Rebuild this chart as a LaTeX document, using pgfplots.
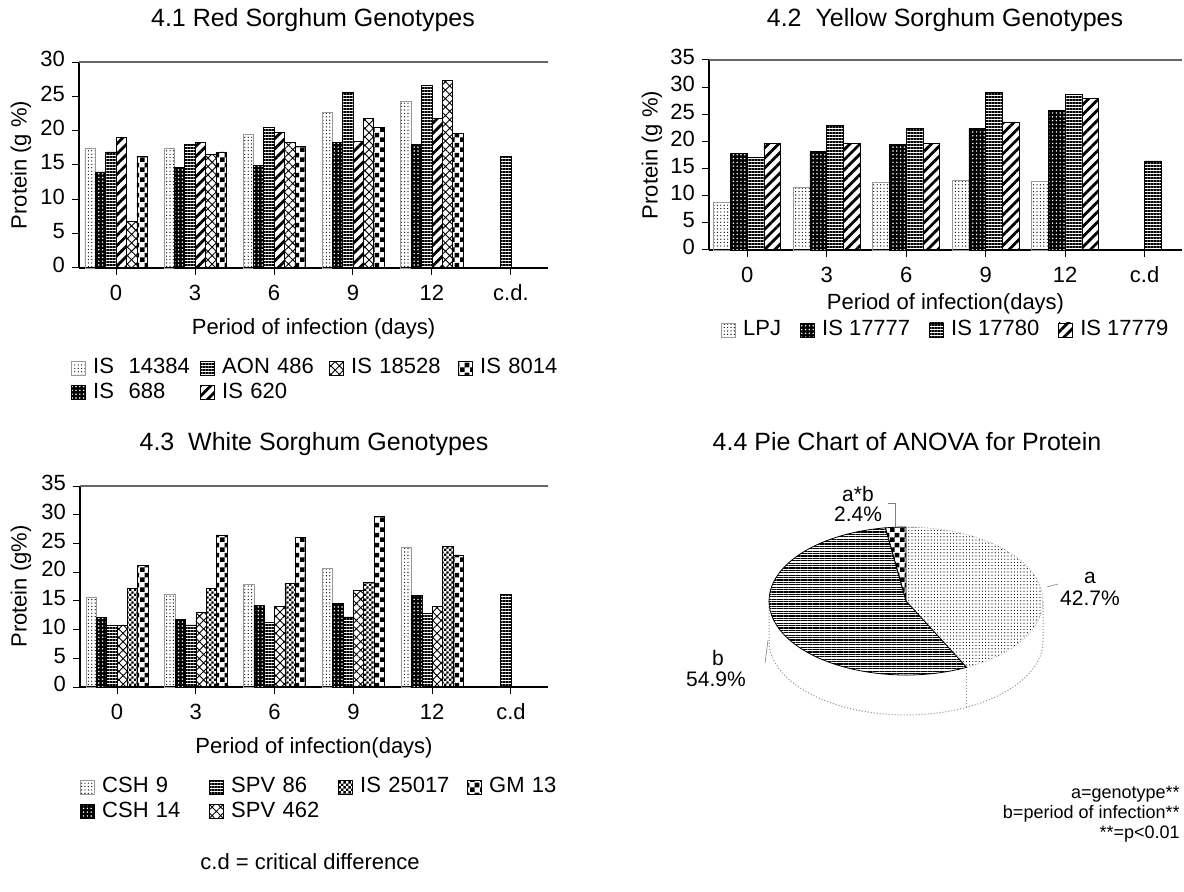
\documentclass[border=0pt]{standalone}
\usepackage{fontspec}
\setmainfont{Liberation Sans}
\usepackage{pgfplots}
\pgfplotsset{compat=1.18}
\usetikzlibrary{patterns,patterns.meta}

\pgfdeclarepatternformonly{bigchecker}{\pgfpointorigin}{\pgfqpoint{5pt}{5pt}}{\pgfqpoint{5pt}{5pt}}{%
 \pgfpathrectangle{\pgfpointorigin}{\pgfqpoint{2.5pt}{2.5pt}}%
 \pgfpathrectangle{\pgfqpoint{2.5pt}{2.5pt}}{\pgfqpoint{2.5pt}{2.5pt}}%
 \pgfusepath{fill}}
\pgfdeclarepatternformonly{finechecker}{\pgfpointorigin}{\pgfqpoint{2.4pt}{2.4pt}}{\pgfqpoint{2.4pt}{2.4pt}}{%
 \pgfpathrectangle{\pgfpointorigin}{\pgfqpoint{1.2pt}{1.2pt}}%
 \pgfpathrectangle{\pgfqpoint{1.2pt}{1.2pt}}{\pgfqpoint{1.2pt}{1.2pt}}%
 \pgfusepath{fill}}

\tikzset{
 pLight/.style={pattern={Dots[distance=1.7pt,radius=0.33pt]}, pattern color=black, draw=black!40, line width=0.3pt},
 pDark/.style={fill=black, postaction={pattern={Dots[distance=1.9pt,radius=0.42pt]}, pattern color=white}, draw=black, line width=0.3pt},
 pH/.style={pattern={Lines[angle=0,distance=1.5pt,line width=0.65pt]}, pattern color=black, draw=black, line width=0.3pt},
 pDiag/.style={pattern={Lines[angle=45,distance=3.6pt,line width=1.4pt]}, pattern color=black, draw=black, line width=0.3pt},
 pCross/.style={pattern={Hatch[angle=45,distance=3pt,line width=0.45pt]}, pattern color=black, draw=black, line width=0.3pt},
 pChk/.style={pattern=bigchecker, pattern color=black, draw=black, line width=0.3pt},
 pFine/.style={pattern=finechecker, pattern color=black, draw=black, line width=0.3pt},
}

\pgfplotsset{
 sorgh/.style={
  scale only axis, anchor=south west,
  xmin=-0.47, xmax=5.47, ymin=0,
  axis x line*=bottom, axis y line*=left,
  xtick={0,1,2,3,4,5},
  tick align=outside,
  major tick length=3.5pt,
  tick style={black, line width=0.5pt},
  axis line style={line width=0.6pt},
  tick label style={font=\fontsize{11}{12}\selectfont},
  typeset ticklabels with strut,
  xticklabel style={yshift=-1pt},
  label style={font=\fontsize{11}{13}\selectfont},
  /pgf/number format/assume math mode=true,
  clip=false,
  legend cell align=left,
  legend image code/.code={\draw[##1] (0pt,-3.5pt) rectangle (7pt,3.5pt);},
  legend style={draw=none, fill=none, inner sep=0pt, font=\fontsize{11}{12}\selectfont, row sep=1pt,
    nodes={inner sep=0.6pt, text height=7.8pt, text depth=2.2pt},
    /tikz/every odd column/.append style={column sep=3pt}},
 }
}

\begin{document}
\begin{tikzpicture}
\useasboundingbox (0,0) rectangle (592pt,-446pt);

% titles
\node[font=\fontsize{12.5}{14}\selectfont] at (156.5pt,-10pt) {4.1 Red Sorghum Genotypes};
\node[font=\fontsize{12.5}{14}\selectfont] at (472.5pt,-10pt) {4.2\ \ Yellow Sorghum Genotypes};
\node[font=\fontsize{12.5}{14}\selectfont] at (157pt,-222pt) {4.3\ \ White Sorghum Genotypes};
\node[font=\fontsize{12.5}{14}\selectfont] at (453.5pt,-221pt) {4.4 Pie Chart of ANOVA for Protein};

% ---------------- 4.1 ----------------
\begin{axis}[sorgh, at={(39.5pt,-134pt)}, width=234.5pt, height=103pt,
  ymax=30, ytick={0,5,...,30}, xticklabels={0,3,6,9,12,c.d.},
  ylabel={Protein (g \%)}, xlabel={Period of infection (days)},
  ylabel style={at={(axis description cs:-0.1237,0.5)}, anchor=center},
  xlabel style={at={(axis description cs:0.5,-0.296)}, anchor=center},
  legend columns=4,
  legend style={at={(axis description cs:-0.017,-0.43)}, anchor=north west,
    /tikz/every even column/.append style={text width=53pt}}]
\draw[black!60, line width=0.6pt] (rel axis cs:0,1) -- (rel axis cs:1,1);
\addplot[ybar, bar width=0.1316, bar shift=-0.329, pLight, forget plot] coordinates {(0,17.5)(1,17.5)(2,19.4)(3,22.7)(4,24.3)};
\addplot[ybar, bar width=0.1316, bar shift=-0.1974, pDark, forget plot] coordinates {(0,14.0)(1,14.7)(2,14.9)(3,18.3)(4,18.0)};
\addplot[ybar, bar width=0.1316, bar shift=-0.0658, pH, forget plot] coordinates {(0,16.9)(1,18.0)(2,20.5)(3,25.6)(4,26.6)(5,16.2)};
\addplot[ybar, bar width=0.1316, bar shift=0.0658, pDiag, forget plot] coordinates {(0,19.0)(1,18.3)(2,19.7)(3,18.4)(4,21.8)};
\addplot[ybar, bar width=0.1316, bar shift=0.1974, pCross, forget plot] coordinates {(0,6.8)(1,16.6)(2,18.3)(3,21.8)(4,27.3)};
\addplot[ybar, bar width=0.1316, bar shift=0.329, pChk, forget plot] coordinates {(0,16.3)(1,16.9)(2,17.7)(3,20.5)(4,19.6)};
\addlegendimage{pLight}\addlegendentry{IS\ \ 14384}
\addlegendimage{pH}\addlegendentry{AON 486}
\addlegendimage{pCross}\addlegendentry{IS 18528}
\addlegendimage{pChk}\addlegendentry{IS 8014}
\addlegendimage{pDark}\addlegendentry{IS\ \ 688}
\addlegendimage{pDiag}\addlegendentry{IS 620}
\end{axis}

% ---------------- 4.2 ----------------
\begin{axis}[sorgh, at={(354.5pt,-125pt)}, width=236.5pt, height=95pt,
  xmin=-0.48, xmax=5.47,
  ymax=35, ytick={0,5,...,35}, xticklabels={0,3,6,9,12,c.d},
  ylabel={Protein (g \%)}, xlabel={Period of infection(days)},
  ylabel style={at={(axis description cs:-0.1205,0.5)}, anchor=center},
  xlabel style={at={(axis description cs:0.5,-0.284)}, anchor=center},
  legend columns=4,
  legend style={at={(axis description cs:0.5,-0.421)}, anchor=center,
    /tikz/every even column/.append style={column sep=9pt}}]
\draw[black!60, line width=0.6pt] (rel axis cs:0,1) -- (rel axis cs:1,1);
\addplot[ybar, bar width=0.21, bar shift=-0.315, pLight, forget plot] coordinates {(0,8.7)(1,11.5)(2,12.4)(3,12.9)(4,12.6)};
\addplot[ybar, bar width=0.21, bar shift=-0.105, pDark, forget plot] coordinates {(0,17.8)(1,18.1)(2,19.4)(3,22.4)(4,25.7)};
\addplot[ybar, bar width=0.21, bar shift=0.105, pH, forget plot] coordinates {(0,17.0)(1,23.0)(2,22.4)(3,29.0)(4,28.7)(5,16.4)};
\addplot[ybar, bar width=0.21, bar shift=0.315, pDiag, forget plot] coordinates {(0,19.6)(1,19.6)(2,19.6)(3,23.6)(4,27.9)};
\addlegendimage{pLight}\addlegendentry{LPJ}
\addlegendimage{pDark}\addlegendentry{IS 17777}
\addlegendimage{pH}\addlegendentry{IS 17780}
\addlegendimage{pDiag}\addlegendentry{IS 17779}
\end{axis}

% ---------------- 4.3 ----------------
\begin{axis}[sorgh, at={(40pt,-343.5pt)}, width=234pt, height=100.5pt,
  ymax=35, ytick={0,5,...,35}, xticklabels={0,3,6,9,12,c.d},
  ylabel={Protein (g\%)}, xlabel={Period of infection(days)},
  ylabel style={at={(axis description cs:-0.126,0.5)}, anchor=center},
  xlabel style={at={(axis description cs:0.5,-0.3035)}, anchor=center},
  legend columns=4,
  legend style={at={(axis description cs:0,-0.44)}, anchor=north west,
    /tikz/every even column/.append style={text width=53pt}}]
\draw[black!60, line width=0.6pt] (rel axis cs:0,1) -- (rel axis cs:1,1);
\addplot[ybar, bar width=0.1316, bar shift=-0.329, pLight, forget plot] coordinates {(0,15.7)(1,16.1)(2,17.9)(3,20.6)(4,24.4)};
\addplot[ybar, bar width=0.1316, bar shift=-0.1974, pDark, forget plot] coordinates {(0,12.1)(1,11.8)(2,14.2)(3,14.6)(4,16.0)};
\addplot[ybar, bar width=0.1316, bar shift=-0.0658, pH, forget plot] coordinates {(0,10.7)(1,10.8)(2,11.3)(3,12.2)(4,12.8)(5,16.2)};
\addplot[ybar, bar width=0.1316, bar shift=0.0658, pCross, forget plot] coordinates {(0,10.8)(1,13.0)(2,14.0)(3,16.8)(4,14.0)};
\addplot[ybar, bar width=0.1316, bar shift=0.1974, pFine, forget plot] coordinates {(0,17.1)(1,17.1)(2,18.1)(3,18.2)(4,24.5)};
\addplot[ybar, bar width=0.1316, bar shift=0.329, pChk, forget plot] coordinates {(0,21.2)(1,26.5)(2,26.1)(3,29.7)(4,23.0)};
\addlegendimage{pLight}\addlegendentry{CSH 9}
\addlegendimage{pH}\addlegendentry{SPV 86}
\addlegendimage{pFine}\addlegendentry{IS 25017}
\addlegendimage{pChk}\addlegendentry{GM 13}
\addlegendimage{pDark}\addlegendentry{CSH 14}
\addlegendimage{pCross}\addlegendentry{SPV 462}
\end{axis}

% ---------------- 4.4 pie ----------------
\begin{scope}[shift={(453pt,-300.5pt)}, x=68.5pt, y=37pt]
\def\pa{42.7}\def\pb{54.9}\def\pab{2.4}
\pgfmathsetmacro\eA{90-3.6*\pa}
\pgfmathsetmacro\eB{\eA-3.6*\pb}
\def\dd{0.54}
\fill[white] (-1,0) arc[start angle=180,end angle=360,radius=1] -- (1,-\dd) arc[start angle=360,end angle=180,radius=1] -- cycle;
\draw[black!45, densely dotted, line width=0.5pt] (-1,0) -- (-1,-\dd) arc[start angle=180,end angle=360,radius=1] -- (1,0);
\draw[black!45, densely dotted, line width=0.5pt] (\eA:1) -- ++(0,-\dd);
\path[pattern={Dots[distance=1.6pt,radius=0.3pt]}, draw=black!40, densely dotted, line width=0.4pt] (0,0) -- (90:1) arc[start angle=90,end angle=\eA,radius=1] -- cycle;
\path[pattern={Lines[angle=0,distance=1.2pt,line width=0.55pt]}, draw=black, line width=0.4pt] (0,0) -- (\eA:1) arc[start angle=\eA,end angle=\eB,radius=1] -- cycle;
\path[pattern=bigchecker, draw=black, line width=0.4pt] (0,0) -- (\eB:1) arc[start angle=\eB,end angle=-270,radius=1] -- cycle;
\end{scope}
\draw[black!50, line width=0.3pt] (444pt,-251.5pt) -- (447.5pt,-251.5pt) -- (447.5pt,-263.5pt);
\draw[black!50, line width=0.3pt] (523.5pt,-293.5pt) -- (529pt,-292pt);
\draw[black!50, line width=0.3pt] (384pt,-320pt) -- (382.5pt,-331.5pt);
\begin{scope}[every node/.style={font=\fontsize{10.5}{12}\selectfont, inner sep=0pt}]
\node at (429pt,-247pt) {a*b};
\node at (429pt,-257pt) {2.4\%};
\node at (545pt,-289pt) {a};
\node at (545pt,-299pt) {42.7\%};
\node at (359pt,-329pt) {b};
\node at (358pt,-339.5pt) {54.9\%};
\end{scope}
\begin{scope}[every node/.style={font=\fontsize{9}{10}\selectfont, inner sep=0pt, anchor=east}]
\node at (590pt,-397pt) {a=genotype**};
\node at (590pt,-407pt) {b=period of infection**};
\node at (590pt,-417pt) {**=p{<}0.01};
\end{scope}
\node[font=\fontsize{11}{12}\selectfont] at (155pt,-431pt) {c.d = critical difference};
\end{tikzpicture}
\end{document}
